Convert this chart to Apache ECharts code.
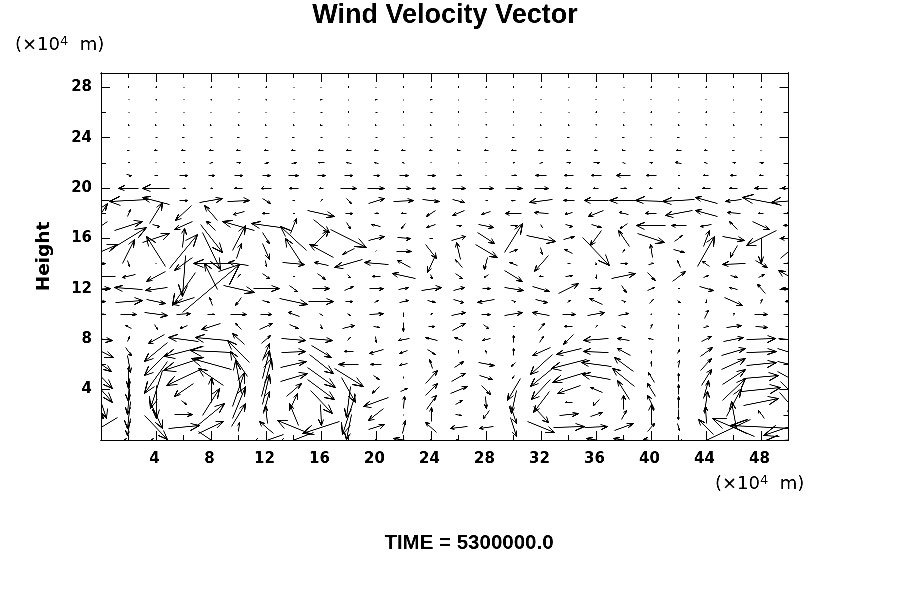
<!DOCTYPE html>
<html lang="en">
  <head>
    <meta charset="UTF-8" />
    <title>Wind Velocity Vector</title>
    <script src="https://cdn.jsdelivr.net/npm/echarts@6/dist/echarts.min.js"></script>
    <style>
      html, body { margin: 0; background: #fff; }
      /* the original is an aliased bitmap, push the line greys towards black */
      #main { filter: contrast(1.8); }
    </style>
  </head>
  <body>
    <div id="main" style="width: 900px; height: 600px;"></div>

    <script>
      // grid of the field, x = 0, 2, ... 50 and one row per height
      const columns = [0, 2, 4, 6, 8, 10, 12, 14, 16, 18, 20, 22, 24, 26, 28, 30, 32, 34, 36, 38, 40, 42, 44, 46, 48, 50];

      // [u, v] per column
      const row0 = [[0,0],[-10,0],[-12,0],[1,0],[25,-17],[1,0],[-34,-12],[-39,-15],[0,0],[2,-5],[-1,0],[-20,3],[-3,0],[-6,0],[0,0],[1,0],[0,0],[1,0],[-19,3],[-20,3],[-15,2],[1,0],[-89,-42],[0,0],[0,0],[-50,-3]];
      const row1 = [[-33,-20],[-3,-17],[23,-24],[31,3],[25,12],[1,9],[-14,12],[-32,13],[-37,-12],[-5,-25],[16,5],[3,13],[-11,10],[-17,-2],[-14,-2],[6,-19],[27,-11],[31,1],[23,1],[19,7],[7,8],[2,-7],[-15,15],[-42,18],[-62,3],[-50,-17]];
      const row2 = [[5,-8],[-3,-27],[13,-28],[18,0],[27,22],[14,23],[-2,18],[-9,22],[1,-21],[-13,-40],[-15,-12],[0,1],[0,14],[6,-1],[-6,-8],[6,-18],[15,-16],[19,2],[12,4],[5,9],[0,20],[0,-10],[-1,17],[-5,27],[-6,8],[3,-8]];
      const row3 = [[11,-33],[-2,-25],[0,-33],[5,-4],[17,27],[13,32],[6,22],[8,17],[22,-23],[-4,-31],[-25,-9],[1,12],[10,14],[7,4],[1,-12],[-5,-23],[-16,-21],[-7,0],[-6,-6],[0,14],[-7,14],[0,12],[3,22],[15,28],[35,7],[18,-20]];
      const row4 = [[22,-25],[-1,-23],[-12,-38],[-19,-13],[0,25],[12,34],[7,30],[15,13],[27,-20],[14,-25],[-7,-7],[7,3],[12,12],[17,7],[9,-9],[-13,-22],[-19,-20],[-23,-8],[-12,5],[-12,19],[-8,13],[0,10],[5,18],[23,22],[39,4],[17,-17]];
      const row5 = [[22,-23],[0,-22],[-23,-32],[-34,-16],[-25,17],[-6,33],[10,38],[27,8],[28,-20],[29,-18],[6,-4],[0,2],[12,13],[14,8],[13,-4],[-2,-3],[-22,-18],[-33,-10],[-28,5],[-22,18],[-6,10],[0,8],[10,16],[23,15],[35,3],[22,-12]];
      const row6 = [[20,-14],[3,-17],[-23,-23],[-40,-13],[-40,11],[-17,25],[7,28],[26,6],[24,-19],[-20,0],[-11,0],[-8,-2],[-3,9],[9,6],[16,-3],[-4,-4],[-22,-20],[-35,-9],[-30,4],[-19,14],[0,5],[1,7],[11,12],[24,11],[30,3],[22,-5]];
      const row7 = [[24,-12],[6,-8],[-23,-19],[-39,-10],[-42,2],[-22,22],[7,17],[24,1],[20,-12],[-9,0],[-14,-4],[-8,-3],[8,-5],[0,3],[-1,3],[0,7],[-18,-8],[-25,-6],[-25,1],[-13,7],[0,3],[2,4],[12,9],[24,7],[30,1],[22,-7]];
      const row8 = [[22,-3],[2,5],[-16,-9],[-30,4],[-32,3],[-12,11],[9,8],[24,-2],[23,-2],[3,3],[1,-6],[-11,-2],[-12,3],[-8,3],[-8,-2],[0,7],[4,6],[-10,-10],[-25,-2],[-12,2],[-5,1],[0,4],[10,5],[20,4],[29,1],[20,-2]];
      const row9 = [[0,0],[-6,3],[3,-5],[-7,-3],[-19,-6],[-6,6],[13,6],[9,-4],[2,-4],[12,3],[6,-1],[0,-9],[6,0],[13,7],[5,-4],[1,0],[6,7],[-8,0],[2,2],[4,-2],[2,4],[0,-4],[5,1],[15,2],[12,-1],[6,0]];
      const row10 = [[6,0],[16,0],[23,-3],[14,1],[7,0],[16,0],[11,0],[-11,4],[3,-2],[3,-2],[14,1],[0,-4],[2,1],[14,3],[9,0],[18,3],[-17,3],[13,0],[17,3],[10,2],[1,0],[1,-1],[4,8],[1,2],[13,0],[6,0]];
      const row11 = [[9,0],[27,2],[19,-4],[-22,-7],[-3,8],[-6,-8],[7,-2],[28,-6],[25,0],[7,0],[4,2],[9,2],[8,-2],[10,-3],[-17,-3],[4,-1],[12,-3],[3,2],[-13,6],[4,-1],[4,4],[3,-2],[0,-3],[18,-8],[2,4],[-6,0]];
      const row12 = [[18,1],[-28,2],[-22,-3],[-23,-33],[57,48],[31,-7],[26,0],[8,-6],[17,0],[9,4],[14,0],[10,2],[20,3],[11,3],[8,0],[19,-3],[17,-5],[20,10],[11,0],[5,-7],[7,3],[1,0],[14,-4],[-8,2],[-8,9],[-15,0]];
      const row13 = [[-28,0],[-13,-3],[-19,-10],[-3,-41],[-13,26],[3,3],[7,-5],[1,0],[8,-6],[3,-3],[-8,0],[-23,5],[2,-4],[7,-5],[-4,-3],[18,-11],[-4,0],[7,1],[0,-4],[24,5],[8,-8],[13,10],[5,2],[7,-2],[6,3],[-20,11]];
      const row14 = [[8,1],[2,-6],[1,0],[-18,-13],[-36,0],[-20,3],[1,-6],[22,-2],[-14,3],[-28,-8],[-24,2],[-13,7],[-8,-17],[-7,8],[-3,-12],[-8,3],[-14,-16],[-3,0],[1,-2],[7,0],[5,1],[-3,7],[-7,5],[-23,-1],[12,-7],[3,-2]];
      const row15 = [[32,14],[12,24],[-19,30],[28,34],[18,-37],[5,15],[7,-16],[-17,26],[-24,13],[-12,-6],[1,1],[15,0],[11,-14],[-4,17],[22,-13],[8,3],[2,-7],[-8,4],[27,-28],[2,3],[-2,13],[11,-3],[17,30],[-7,-12],[0,-25],[17,15]];
      const row16 = [[-3,0],[36,22],[27,9],[2,19],[22,-28],[13,25],[7,-11],[-26,24],[15,15],[36,-18],[16,4],[13,-1],[3,0],[14,4],[17,-11],[18,29],[29,-6],[11,3],[-11,-15],[-11,16],[27,-9],[8,6],[6,16],[22,-4],[-30,-15],[-16,0]];
      const row17 = [[-13,-9],[28,9],[7,-2],[-18,-8],[-9,9],[-32,9],[-29,4],[6,15],[16,-13],[4,-6],[-9,2],[-4,-5],[-9,-3],[5,0],[15,-3],[7,0],[2,-3],[7,-2],[10,-3],[-7,-5],[-29,0],[-15,0],[-11,-2],[-8,8],[17,-8],[-10,0]];
      const row18 = [[12,19],[3,7],[13,21],[-16,-15],[-13,15],[-11,-3],[-7,0],[1,0],[27,-6],[7,0],[4,0],[-5,0],[-9,-6],[-12,-5],[-9,-3],[-16,0],[-14,1],[-7,-2],[-15,-6],[-9,2],[-11,0],[-27,-5],[-22,6],[-13,1],[-5,0],[-5,0]];
      const row19 = [[-17,0],[-39,-2],[-27,7],[8,0],[23,4],[22,1],[8,-5],[2,0],[2,2],[5,-5],[16,5],[20,1],[17,-2],[12,-3],[2,0],[-4,0],[-23,-3],[-11,0],[-24,0],[-28,0],[-32,1],[-32,-2],[-22,6],[-16,-2],[-37,7],[-34,-3]];
      const row20 = [[-16,0],[-20,0],[-27,0],[3,0],[2,0],[-8,0],[-10,0],[-9,0],[-4,0],[16,0],[17,0],[13,0],[9,0],[13,0],[14,0],[17,0],[14,0],[-6,0],[-5,0],[6,0],[-3,0],[1,0],[-8,0],[-8,0],[-13,0],[-14,0]];
      const row21 = [[0,0],[5,-1],[3,0],[8,0],[6,0],[8,0],[8,0],[10,0],[8,0],[8,0],[6,0],[9,0],[8,0],[5,0],[1,0],[5,0],[-11,0],[-9,0],[-10,0],[-14,0],[-10,0],[1,0],[-5,0],[-6,0],[-4,0],[4,0]];
      const row22 = [[0,0],[1,0],[1,0],[1,0],[3,1],[4,0],[4,1],[5,1],[-6,0],[-5,1],[-4,1],[-2,1],[1,0],[0,1],[1,0],[1,1],[3,1],[4,0],[6,0],[-3,1],[3,0],[-6,1],[-3,1],[3,0],[4,0],[0,0]];
      const row23 = [[0,0],[-2,0],[-3,0],[-4,0],[-4,0],[-4,0],[-4,0],[-4,0],[-5,0],[-5,0],[-4,0],[-4,0],[-3,0],[-3,0],[-4,0],[-5,0],[-5,0],[-4,0],[-3,0],[-3,0],[-4,0],[-5,0],[-3,0],[-2,0],[-1,0],[0,0]];
      const row24 = [[0,0],[-1,0],[-2,0],[-2,0],[-2,0],[-2,0],[-2,0],[-2,0],[-2,0],[-1,0],[-2,0],[-1,0],[-2,0],[-1,0],[-2,0],[-2,0],[-1,0],[-2,0],[-1,0],[-2,0],[-1,0],[-2,0],[-1,0],[-1,0],[-1,0],[0,0]];
      const row25 = [[0,0],[-1,0],[-1,0],[-1,0],[-1,0],[-1,0],[-1,0],[-1,0],[-2,0],[0,1],[-1,0],[0,1],[-1,0],[0,1],[0,1],[0,1],[-1,0],[-1,0],[0,1],[-1,0],[0,1],[-1,0],[0,1],[-1,0],[0,1],[0,0]];
      const row26 = [[0,0],[-1,0],[-1,0],[-1,0],[-1,0],[-1,0],[-1,0],[-1,0],[-2,0],[0,1],[-2,0],[0,1],[-2,0],[0,1],[-1,0],[0,1],[-1,0],[-1,0],[0,1],[-1,0],[0,1],[-1,0],[0,1],[-1,0],[0,1],[0,0]];
      const row27 = [[0,0],[-1,0],[0,1],[-1,0],[0,1],[-1,0],[0,1],[-1,0],[-2,0],[0,1],[-2,0],[0,1],[-2,0],[0,1],[-1,0],[0,1],[-1,0],[0,1],[-1,0],[0,1],[-1,0],[0,1],[-1,0],[0,1],[0,1],[0,0]];
      const row28 = [[0,0],[0,1],[0,1],[-1,0],[0,1],[-1,0],[0,1],[-1,0],[-1,0],[0,1],[-1,0],[0,1],[0,1],[0,1],[0,1],[0,1],[0,1],[-1,0],[0,1],[-1,0],[0,1],[-1,0],[0,1],[0,1],[0,1],[0,0]];
      const rows = [row0, row1, row2, row3, row4, row5, row6, row7, row8, row9, row10, row11, row12, row13, row14, row15, row16, row17, row18, row19, row20, row21, row22, row23, row24, row25, row26, row27, row28];

      const xMax = 50;
      const yMax = 29.13;
      const font = '"Liberation Sans", Arial, Helvetica, sans-serif';
      const wideFont = '"DejaVu Sans", Verdana, sans-serif';

      const vectors = [];
      rows.forEach((row, y) => {
        row.forEach((pair, i) => {
          vectors.push([columns[i], y, pair[0], pair[1]]);
        });
      });

      // snap to pixel centres so flat arrows stay a crisp 1px
      function snap(p) {
        return [Math.floor(p[0]) + 0.5, Math.floor(p[1]) + 0.5];
      }

      // arrow is centred on its grid point, head is 30% of the shaft
      function renderArrow(params, api) {
        const c = api.coord([api.value(0), api.value(1)]);
        let u = api.value(2);
        let v = -api.value(3);
        let len = Math.sqrt(u * u + v * v);
        if (len < 1) {
          u = 1;
          v = 0;
          len = 1;
        }
        const tail = [c[0] - u / 2, c[1] - v / 2];
        const tip = [c[0] + u / 2, c[1] + v / 2];
        const angle = Math.atan2(v, u);
        const head = len * 0.3;
        const spread = 22 * Math.PI / 180;
        const fin1 = [tip[0] - head * Math.cos(angle - spread), tip[1] - head * Math.sin(angle - spread)];
        const fin2 = [tip[0] - head * Math.cos(angle + spread), tip[1] - head * Math.sin(angle + spread)];
        return {
          type: "polyline",
          shape: { points: [snap(tail), snap(tip), snap(fin1), snap(tip), snap(fin2)] },
          style: { fill: null, stroke: "#000", lineWidth: 1 },
        };
      }

      const frame = { show: true, onZero: false, lineStyle: { color: "#000", width: 1 } };

      function makeAxis(position, max, interval, length, labels, margin, padding) {
        return {
          type: "value",
          position: position,
          min: 0,
          max: max,
          interval: interval,
          axisLine: frame,
          splitLine: { show: false },
          axisTick: { show: true, inside: true, length: length, lineStyle: { color: "#000", width: 1 } },
          axisLabel: {
            show: labels,
            color: "#000",
            fontFamily: wideFont,
            fontWeight: "bold",
            fontSize: 15,
            margin: margin,
            padding: padding,
            showMinLabel: false,
            showMaxLabel: false,
          },
        };
      }

      const leftAxis = makeAxis("left", yMax, 4, 9, true, 9, [2, 0, 0, 0]);
      leftAxis.name = "Height";
      leftAxis.nameLocation = "middle";
      leftAxis.nameRotate = 90;
      leftAxis.nameGap = 47;
      leftAxis.nameTextStyle = { color: "#000", fontFamily: wideFont, fontWeight: "bold", fontSize: 18.5 };

      const unitText = "{n|(×10}{s|4}{n|  m)}";
      const unitStyle = {
        color: "#000",
        fontWeight: "normal",
        rich: {
          n: { color: "#000", fontFamily: wideFont, fontWeight: "normal", fontSize: 18, lineHeight: 20 },
          s: { color: "#000", fontFamily: wideFont, fontWeight: "normal", fontSize: 13, lineHeight: 20, verticalAlign: "top" },
        },
      };

      const myChart = echarts.init(document.getElementById("main"), null, { renderer: "canvas" });

      myChart.setOption({
        animation: false,
        backgroundColor: "#fff",
        title: [
          {
            text: "Wind Velocity Vector",
            left: 445,
            top: 2,
            padding: 0,
            textAlign: "center",
            textStyle: { color: "#000", fontFamily: font, fontWeight: "bold", fontSize: 27 },
          },
          { text: unitText, left: 15, top: 35, padding: 0, textStyle: unitStyle },
          { text: unitText, left: 715, top: 474, padding: 0, textStyle: unitStyle },
          {
            text: "TIME = 5300000.0",
            left: 469,
            top: 533,
            padding: 0,
            textAlign: "center",
            textStyle: { color: "#000", fontFamily: font, fontWeight: "bold", fontSize: 20.5 },
          },
        ],
        grid: { left: 101, right: 111.5, top: 73, bottom: 160 },
        xAxis: [
          makeAxis("bottom", xMax, 4, 9, true, 12, [0, 3, 0, 0]),
          makeAxis("bottom", xMax, 2, 5, false, 10),
          makeAxis("top", xMax, 4, 9, false, 10),
          makeAxis("top", xMax, 2, 5, false, 10),
        ],
        yAxis: [
          leftAxis,
          makeAxis("left", yMax, 2, 5, false, 9),
          makeAxis("right", yMax, 4, 9, false, 9),
          makeAxis("right", yMax, 2, 5, false, 9),
        ],
        series: [
          {
            type: "custom",
            coordinateSystem: "cartesian2d",
            xAxisIndex: 0,
            yAxisIndex: 0,
            clip: true,
            silent: true,
            renderItem: renderArrow,
            encode: { x: 0, y: 1 },
            data: vectors,
          },
        ],
      });
    </script>
  </body>
</html>
